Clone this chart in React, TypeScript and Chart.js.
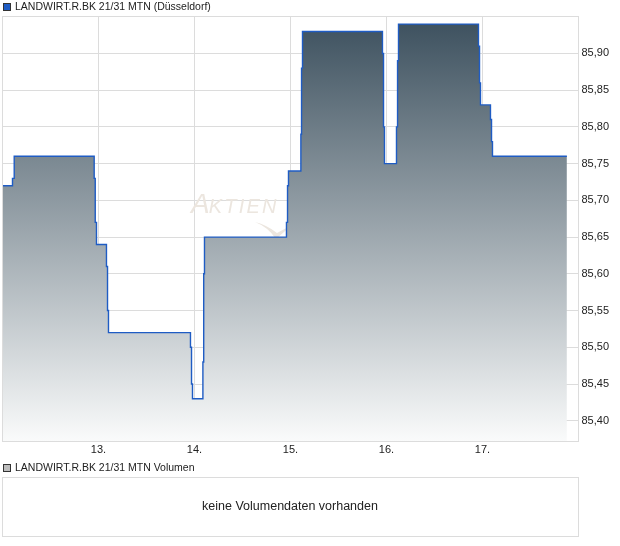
import React, { useEffect, useRef } from 'react';
import { Chart, registerables } from 'chart.js';

Chart.register(...registerables);

const seriesName = 'LANDWIRT.R.BK 21/31 MTN (Düsseldorf)';
const volumeName = 'LANDWIRT.R.BK 21/31 MTN Volumen';
const noVolumeText = 'keine Volumendaten vorhanden';
const watermarkFirst = 'A';
const watermarkRest = 'KTIEN';

// time in days (day-of-month + fraction of day)
const times = [
  12.0, 12.104, 12.122, 12.955, 12.966, 12.979, 13.083, 13.094, 13.104,
  13.958, 13.969, 13.979, 14.0875, 14.096, 14.104, 14.958, 14.969, 14.979,
  15.108, 15.115, 15.125, 15.958, 15.969, 15.979, 16.104, 16.115, 16.125,
  16.958, 16.969, 16.979, 17.083, 17.094, 17.104, 17.879,
];
const prices = [
  85.72, 85.73, 85.76, 85.73, 85.67, 85.64, 85.61, 85.55, 85.52,
  85.5, 85.45, 85.43, 85.48, 85.6, 85.65, 85.67, 85.72, 85.74,
  85.79, 85.88, 85.93, 85.9, 85.8, 85.75, 85.8, 85.89, 85.94,
  85.91, 85.86, 85.83, 85.81, 85.78, 85.76, 85.76,
];

const xTicks = [13, 14, 15, 16, 17];
const yTicks = [85.4, 85.45, 85.5, 85.55, 85.6, 85.65, 85.7, 85.75, 85.8, 85.85, 85.9];
const xMin = 12;
const xMax = 18;
const yMin = 85.372;
const yMax = 85.951;

const FONT = "'Liberation Sans', Arial, sans-serif";
const GRID = '#dcdcdc';
const LINE = '#1f5cc4';

const decorPlugin = {
  id: 'decor',
  beforeDatasetsDraw(chart: any) {
    const ctx = chart.ctx as CanvasRenderingContext2D;
    ctx.save();
    ctx.fillStyle = '#ece6df';
    ctx.textBaseline = 'alphabetic';
    ctx.textAlign = 'left';
    ctx.font = `italic 28px ${FONT}`;
    ctx.fillText(watermarkFirst, 191, 213);
    let x = 191 + ctx.measureText(watermarkFirst).width - 1;
    ctx.font = `italic 20px ${FONT}`;
    for (const ch of watermarkRest) {
      ctx.fillText(ch, x, 213);
      x += ctx.measureText(ch).width + 2.2;
    }
    // swoosh
    ctx.beginPath();
    ctx.moveTo(255, 222);
    ctx.quadraticCurveTo(268, 227, 276, 239);
    ctx.lineTo(292, 225);
    ctx.lineTo(277, 233);
    ctx.quadraticCurveTo(267, 225, 255, 222);
    ctx.fill();
    ctx.restore();
  },
  afterDatasetsDraw(chart: any) {
    const ctx = chart.ctx as CanvasRenderingContext2D;
    const a = chart.chartArea;
    ctx.save();
    ctx.strokeStyle = GRID;
    ctx.lineWidth = 1;
    const l = Math.floor(a.left) + 0.5;
    const t = Math.floor(a.top) + 0.5;
    const r = Math.floor(a.right) + 0.5;
    const b = Math.floor(a.bottom) + 0.5;
    ctx.strokeRect(l, t, r - l, b - t);

    // top legend
    ctx.fillStyle = LINE;
    ctx.fillRect(3, 3, 8, 8);
    ctx.strokeStyle = '#333';
    ctx.strokeRect(3.5, 3.5, 7, 7);
    ctx.fillStyle = '#222';
    ctx.font = `10.5px ${FONT}`;
    ctx.textBaseline = 'middle';
    ctx.textAlign = 'left';
    ctx.fillText(seriesName, 15, 7);

    // volume legend
    ctx.fillStyle = '#bdbdbd';
    ctx.fillRect(3, 464, 8, 8);
    ctx.strokeStyle = '#333';
    ctx.strokeRect(3.5, 464.5, 7, 7);
    ctx.fillStyle = '#222';
    ctx.fillText(volumeName, 15, 468);

    // volume panel
    ctx.strokeStyle = GRID;
    ctx.strokeRect(l, 477.5, r - l, 59);
    ctx.font = `12.5px ${FONT}`;
    ctx.textAlign = 'center';
    ctx.fillText(noVolumeText, 290, 507);
    ctx.restore();
  },
};

export default function App() {
  const ref = useRef<HTMLCanvasElement | null>(null);

  useEffect(() => {
    const canvas = ref.current;
    if (!canvas) return;
    const chart = new Chart(canvas, {
      type: 'line',
      data: {
        datasets: [
          {
            label: seriesName,
            data: times.map((t, i) => ({ x: t, y: prices[i] })),
            stepped: true,
            borderColor: LINE,
            borderWidth: 1.4,
            pointRadius: 0,
            fill: 'start',
            backgroundColor: (c: any) => {
              const a = c.chart.chartArea;
              if (!a) return 'rgba(0,0,0,0)';
              const g = c.chart.ctx.createLinearGradient(0, a.top, 0, a.bottom);
              g.addColorStop(0, '#3b4f5d');
              g.addColorStop(1, '#fafbfb');
              return g;
            },
          },
        ],
      },
      options: {
        responsive: false,
        animation: false,
        devicePixelRatio: 1,
        layout: { padding: { left: 2.5, top: 16, right: 0, bottom: 0 } },
        plugins: {
          legend: { display: false },
          tooltip: { enabled: false },
        },
        scales: {
          x: {
            type: 'linear',
            min: xMin,
            max: xMax,
            afterBuildTicks: (s: any) => {
              s.ticks = xTicks.map((v) => ({ value: v }));
            },
            afterFit: (s: any) => {
              s.height = 104.7;
            },
            grid: { color: GRID, drawTicks: false },
            border: { display: true, color: GRID },
            ticks: {
              padding: 2,
              color: '#222',
              font: { family: FONT, size: 11 },
              callback: (v: any) => `${v}.`,
              maxRotation: 0,
            },
          },
          y: {
            type: 'linear',
            position: 'right',
            min: yMin,
            max: yMax,
            afterBuildTicks: (s: any) => {
              s.ticks = yTicks.map((v) => ({ value: v }));
            },
            afterFit: (s: any) => {
              s.width = 41.5;
            },
            grid: { color: GRID, drawTicks: false },
            border: { display: true, color: GRID },
            ticks: {
              padding: 3,
              color: '#222',
              font: { family: FONT, size: 11 },
              callback: (v: any) => Number(v).toFixed(2).replace('.', ','),
            },
          },
        },
      },
      plugins: [decorPlugin],
    } as any);
    return () => chart.destroy();
  }, []);

  return (
    <div style={{ position: 'absolute', left: 0, top: 0, width: 620, height: 546, background: '#fff' }}>
      <canvas ref={ref} width={620} height={546} style={{ width: 620, height: 546, display: 'block' }} />
    </div>
  );
}
